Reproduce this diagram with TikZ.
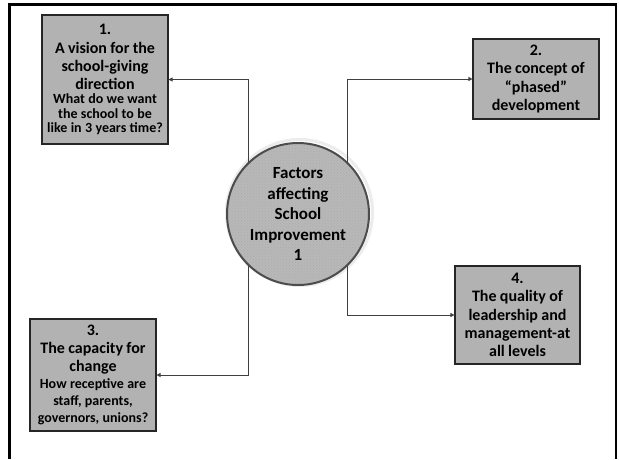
\documentclass[tikz,border=0pt]{standalone}
\usepackage{fontspec}
\setmainfont{Carlito}
\usetikzlibrary{arrows.meta,backgrounds,patterns}
\definecolor{boxgray}{HTML}{B2B2B2}
\definecolor{circgray}{HTML}{B8B8B8}
\definecolor{linegray}{HTML}{404040}
\newcommand{\bigt}{\fontsize{16}{18.3}\selectfont}
\newcommand{\smallt}{\fontsize{14}{14.3}\selectfont}
\newcommand{\smallwide}{\fontsize{14}{17}\selectfont}
\begin{document}
\begin{tikzpicture}[x=1pt,y=-1pt,
  factorbox/.style={draw=black!85, line width=1.1pt, fill=boxgray, align=center,
    text width=120pt, inner xsep=3pt, inner ysep=0pt, font=\bfseries},
  hub/.style={circle, draw=black!70, line width=2pt, minimum size=142pt, inner sep=0pt,
    align=center, font=\bfseries\fontsize{17}{20.5}\selectfont,
    preaction={fill=circgray}, pattern=crosshatch dots, pattern color=gray!65},
  conn/.style={draw=linegray, line width=0.8pt, -{Triangle[length=4pt,width=4pt]}}]
\useasboundingbox (0,0) rectangle (619,459);
% outer frame (open at the bottom)
\draw[line width=2.5pt] (9.5,459) -- (9.5,4.5) -- (616,4.5) -- (616,459);

\node[factorbox, minimum height=129pt] (b1) at (105,79.5)
  {{\bigt 1.\\A vision for the\\school-giving\\direction\par}{\smallt What do we want\\the school to be\\like in 3 years time?\par}};
\node[factorbox, minimum height=80pt] (b2) at (536,79)
  {{\bigt 2.\\The concept of\\“phased”\\development\par}};
\node[factorbox, minimum height=112pt] (b3) at (93,375)
  {{\bigt 3.\\The capacity for\\change\par}{\smallwide How receptive are\\staff, parents,\\governors, unions?\par}};
\node[factorbox, minimum height=98pt, text width=119pt] (b4) at (517.5,315)
  {{\bigt 4.\\The quality of\\leadership and\\management-at\\all levels\par}};

\node[hub] (hub) at (298,214) {Factors\\affecting\\School\\Improvement\\1};

\begin{pgfonlayer}{background}
  \draw[gray!15, line width=3pt] ([shift={(1.5pt,1.5pt)}]hub.center) circle (73pt);
  \draw[conn] ([xshift=-50pt]hub.center) |- (b1.east);
  \draw[conn] ([xshift=49pt]hub.center) |- (b2.west);
  \draw[conn] ([xshift=-50pt]hub.center) |- (b3.east);
  \draw[conn] ([xshift=49pt]hub.center) |- (b4.west);
\end{pgfonlayer}
\end{tikzpicture}
\end{document}
